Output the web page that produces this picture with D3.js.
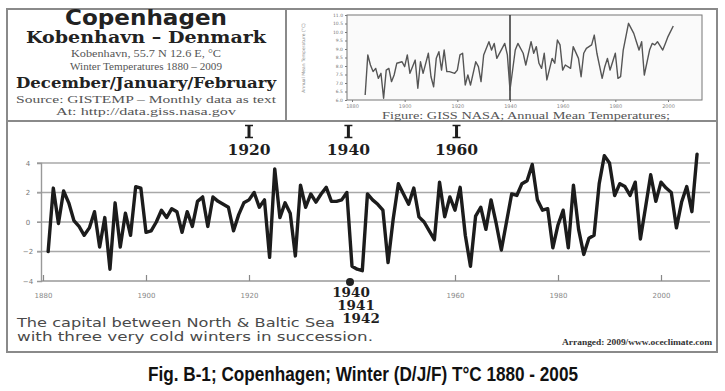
<!DOCTYPE html>
<html><head><meta charset="utf-8">
<script src="https://cdn.jsdelivr.net/npm/d3@7"></script>
<style>body{margin:0;background:#fff}</style>
</head><body>
<svg id="c" width="725" height="391"></svg>
<script>
// ---------- data ----------
const firstWinterYear = 1881;
const winterTemps = [
 -2.0,2.3,-0.1,2.1,1.3,0.1,-0.3,-0.9,-0.4,0.7,
 -1.7,0.3,-3.2,1.3,-1.7,0.6,-0.9,2.4,2.3,-0.7,
 -0.6,0.0,0.8,0.3,0.9,0.7,-0.7,0.7,-0.3,1.4,
 1.7,-0.3,1.7,1.4,1.2,1.0,-0.6,0.5,1.3,1.5,
 2.0,1.0,1.5,-2.4,3.6,0.3,1.3,0.6,-2.3,2.5,
 1.0,1.9,1.35,1.9,2.35,1.4,1.4,1.5,2.0,-3.0,
 -3.2,-3.3,1.9,1.5,1.2,0.8,-2.75,0.2,2.6,1.9,
 1.2,2.3,0.35,0.0,-0.6,-1.2,2.7,0.35,1.7,0.8,
 2.35,-0.9,-3.0,0.4,1.0,-0.5,1.5,-0.1,-1.9,0.0,
 1.9,1.8,2.6,2.8,3.9,1.5,0.8,0.9,-1.75,-0.2,
 0.8,-1.75,2.5,-0.5,-2.2,-1.1,-0.9,2.6,4.5,4.0,
 1.8,2.6,2.4,1.8,2.7,-1.15,1.0,3.2,1.4,2.7,
 2.3,2.0,-0.4,1.35,2.4,0.7,4.6];
const winterYears = winterTemps.map((_, i) => firstWinterYear + i);
const mainYTicks = [-4, -2, 0, 2, 4];
const mainGridValues = [4, 2, 0, -2];
const mainXTicks = [1880, 1900, 1920, 1960, 1980, 2000];
const topMarkers = ["1920", "1940", "1960"];
const topMarkerYears = [1920, 1939.3, 1960.3];
const coldLabels = ["1940", "1941", "1942"];

const insetYears = [1885,1886,1887,1888,1889,1890,1891,1892,1893,1894,1895,1896,1897,1899,1900,1901,1902,1904,1905,1906,1907,1909,1910,1911,1912,1913,1914,1915,1916,1917,1919,1920,1921,1922,1923,1924,1925,1927,1928,1929,1930,1932,1933,1934,1935,1937,1938,1939,1940,1942,1943,1945,1946,1948,1949,1950,1951,1952,1953,1954,1956,1957,1958,1959,1960,1961,1963,1964,1966,1967,1968,1969,1971,1972,1973,1975,1976,1977,1978,1980,1981,1982,1983,1985,1987,1988,1989,1990,1991,1993,1994,1995,1996,1998,1999,2000,2002];
const insetTemps = [6.29,8.65,8.06,7.67,7.86,7.27,7.57,6.10,7.76,7.86,
 7.08,7.47,8.16,8.25,7.96,8.65,7.57,8.35,6.69,8.25,
 7.57,8.75,7.37,6.78,8.45,8.84,7.76,8.94,7.67,7.67,
 7.57,7.76,8.65,8.75,6.88,7.47,6.88,8.25,7.96,7.08,
 8.65,9.43,8.94,9.33,8.45,9.04,9.33,8.65,6.59,8.94,
 9.33,8.75,8.06,9.43,8.75,9.14,8.16,7.86,8.75,7.18,
 8.45,8.16,9.53,9.24,7.76,8.06,7.86,9.14,8.45,7.37,
 8.75,9.04,9.24,9.82,8.75,7.27,7.96,8.45,7.76,8.75,
 7.27,7.37,8.94,10.51,9.92,9.43,8.94,9.43,7.47,8.94,
 9.33,9.24,9.43,8.94,9.33,9.73,10.35];
const insetYTicks = [6.0,6.5,7.0,7.5,8.0,8.5,9.0,9.5,10.0,10.5,11.0];
const insetXTicks = [1880,1900,1920,1940,1960,1980,2000];

const headerLines = [
  {t:"Copenhagen", f:"'DejaVu Sans'", w:800, s:21, y:25, len:162},
  {t:"Kobenhavn – Denmark", f:"'DejaVu Serif'", w:700, s:16, y:43, len:240},
  {t:"Kobenhavn, 55.7 N 12.6 E, °C", f:"'Liberation Serif'", w:400, s:11, y:57, len:150},
  {t:"Winter Temperatures 1880 – 2009", f:"'Liberation Serif'", w:400, s:11, y:69.5, len:152},
  {t:"December/January/February", f:"'DejaVu Serif'", w:700, s:14, y:88, len:260},
  {t:"Source: GISTEMP – Monthly data as text", f:"'Liberation Serif'", w:400, s:11, y:103, len:260},
  {t:"At: http://data.giss.nasa.gov", f:"'Liberation Serif'", w:400, s:11, y:115, len:180}
];

// ---------- drawing ----------
const svg = d3.select("#c");
svg.append("rect").attr("width",725).attr("height",391).attr("fill","#fff");

// frames
const frame = svg.append("g").attr("fill","none").attr("stroke","#8a8a8a").attr("stroke-width",2);
frame.append("rect").attr("x",7).attr("y",9).attr("width",710).attr("height",343);
frame.append("line").attr("x1",7).attr("x2",717).attr("y1",121).attr("y2",121);
frame.append("line").attr("x1",286).attr("x2",286).attr("y1",9).attr("y2",121);

// header text
svg.append("g").selectAll("text").data(headerLines).join("text")
  .attr("x",146).attr("y",d=>d.y).attr("text-anchor","middle")
  .attr("font-family",d=>d.f).attr("font-weight",d=>d.w).attr("font-size",d=>d.s)
  .attr("fill",d=>d.w>=700?"#222":"#555")
  .attr("textLength",d=>d.len).attr("lengthAdjust","spacingAndGlyphs")
  .text(d=>d.t);

// ---------- main chart ----------
const x = d3.scaleLinear().domain([1880, 2000]).range([43, 661]);
const y = d3.scaleLinear().domain([-4, 4]).range([281, 163]);

const main = svg.append("g");
main.append("g").selectAll("line").data(mainGridValues).join("line")
  .attr("x1",37).attr("x2",710).attr("y1",d=>y(d)).attr("y2",d=>y(d))
  .attr("stroke","#a8a8a8").attr("stroke-width",1.6);

const yAxis = main.append("g").attr("transform","translate(41,0)")
  .call(d3.axisLeft(y).tickValues(mainYTicks).tickSize(4).tickPadding(7).tickFormat(d3.format("d")));
yAxis.select(".domain").attr("stroke","#999").attr("stroke-width",1.4);
yAxis.selectAll(".tick line").attr("stroke","#999");
yAxis.selectAll("text").attr("font-family","'DejaVu Sans'").attr("font-size",7).attr("fill","#777")
  .attr("text-anchor","middle").attr("x",-13);

const xAxis = main.append("g").attr("transform",`translate(0,${y(-4)})`)
  .call(d3.axisBottom(x).tickValues(mainXTicks).tickSize(-6).tickPadding(12).tickFormat(d3.format("d")));
xAxis.select(".domain").attr("stroke","#999").attr("stroke-width",1.6).attr("d","M41,0H710");
xAxis.selectAll(".tick line").attr("stroke","#888").attr("stroke-width",1.2);
xAxis.selectAll("text").attr("font-family","'DejaVu Sans'").attr("font-size",7).attr("fill","#888");

const line = d3.line().x((d,i)=>x(winterYears[i])).y(d=>y(d)).curve(d3.curveLinear);
main.append("path").datum(winterTemps).attr("d",line)
  .attr("fill","none").attr("stroke","#1c1c1c").attr("stroke-width",3.4)
  .attr("stroke-linejoin","round").attr("stroke-linecap","round");

// annotations: serif "I" marker marks drawn as paths, year labels as text
const markG = svg.append("g").attr("stroke","#1e1e1e").attr("fill","none");
topMarkerYears.forEach(yr=>{
  const cx = x(yr);
  markG.append("path").attr("stroke-width",3).attr("d",`M${cx},125V138`);
  markG.append("path").attr("stroke-width",1.6).attr("d",`M${cx-4},125.5H${cx+4}M${cx-4},137.5H${cx+4}`);
});
const ann = svg.append("g").attr("font-family","'DejaVu Serif'").attr("font-weight",700).attr("fill","#1e1e1e").attr("text-anchor","middle");
topMarkerYears.forEach((yr,i)=>{
  ann.append("text").attr("x",x(yr)).attr("y",155).attr("font-size",15.5).text(topMarkers[i]);
});
svg.append("circle").attr("cx",x(1940)-2).attr("cy",y(-4)+1).attr("r",4).attr("fill","#222");
coldLabels.forEach((t,i)=>{
  ann.append("text").attr("x",x(1940)-1+i*5).attr("y",297+i*13).attr("font-size",13.5).text(t);
});

svg.append("g").attr("font-family","'DejaVu Sans'").attr("font-size",12.5).attr("fill","#4a4a4a")
  .selectAll("text").data(["The capital between North & Baltic Sea","with three very cold winters in succession."]).join("text")
  .attr("x",17).attr("y",(d,i)=>327+i*13.5)
  .attr("textLength",(d,i)=>i?356:318).attr("lengthAdjust","spacingAndGlyphs").text(d=>d);

svg.append("text").attr("x",712).attr("y",345).attr("text-anchor","end")
  .attr("font-family","'Liberation Serif'").attr("font-weight",700).attr("font-size",7.5).attr("fill","#333")
  .attr("textLength",150).attr("lengthAdjust","spacingAndGlyphs").text("Arranged: 2009/www.oceclimate.com");

// caption
svg.append("text").attr("x",363).attr("y",381).attr("text-anchor","middle")
  .attr("font-family","'Liberation Sans'").attr("font-weight",700).attr("font-size",20.5).attr("fill","#111")
  .attr("textLength",430).attr("lengthAdjust","spacingAndGlyphs")
  .text("Fig. B-1; Copenhagen; Winter (D/J/F) T°C 1880 - 2005");

// ---------- inset ----------
const ix = d3.scaleLinear().domain([1880, 2000]).range([352, 668]);
const iy = d3.scaleLinear().domain([6, 11]).range([100, 15]);
const inset = svg.append("g");
inset.append("rect").attr("x",347).attr("y",15).attr("width",355).attr("height",85)
  .attr("fill","#fafafa").attr("stroke","#777").attr("stroke-width",1);
inset.append("line").attr("x1",ix(1940)).attr("x2",ix(1940)).attr("y1",15).attr("y2",100)
  .attr("stroke","#333").attr("stroke-width",1.5);
const iline = d3.line().x((d,i)=>ix(insetYears[i])).y(d=>iy(d));
inset.append("path").datum(insetTemps).attr("d",iline).attr("fill","none")
  .attr("stroke","#555").attr("stroke-width",1.4).attr("stroke-linejoin","round");
const iya = inset.append("g").attr("transform","translate(347,0)")
  .call(d3.axisLeft(iy).tickValues(insetYTicks).tickSize(2).tickPadding(2).tickFormat(d3.format(".1f")));
iya.select(".domain").remove();
iya.selectAll(".tick line").attr("stroke","#777");
iya.selectAll("text").attr("font-family","'DejaVu Sans'").attr("font-size",4.5).attr("fill","#777");
const ixa = inset.append("g").attr("transform","translate(0,100)")
  .call(d3.axisBottom(ix).tickValues(insetXTicks).tickSize(2).tickPadding(2).tickFormat(d3.format("d")));
ixa.select(".domain").remove();
ixa.selectAll(".tick line").attr("stroke","#777");
ixa.selectAll("text").attr("font-family","'DejaVu Sans'").attr("font-size",5).attr("fill","#888");
inset.append("text").attr("transform","translate(305,58) rotate(-90)").attr("text-anchor","middle")
  .attr("font-family","'DejaVu Sans'").attr("font-size",4.5).attr("fill","#888")
  .text("Annual Mean Temperature (°C)");
inset.append("text").attr("x",526).attr("y",119).attr("text-anchor","middle")
  .attr("font-family","'Liberation Serif'").attr("font-size",10).attr("fill","#555")
  .attr("textLength",288).attr("lengthAdjust","spacingAndGlyphs")
  .text("Figure: GISS NASA; Annual Mean Temperatures;");
</script>
</body></html>
